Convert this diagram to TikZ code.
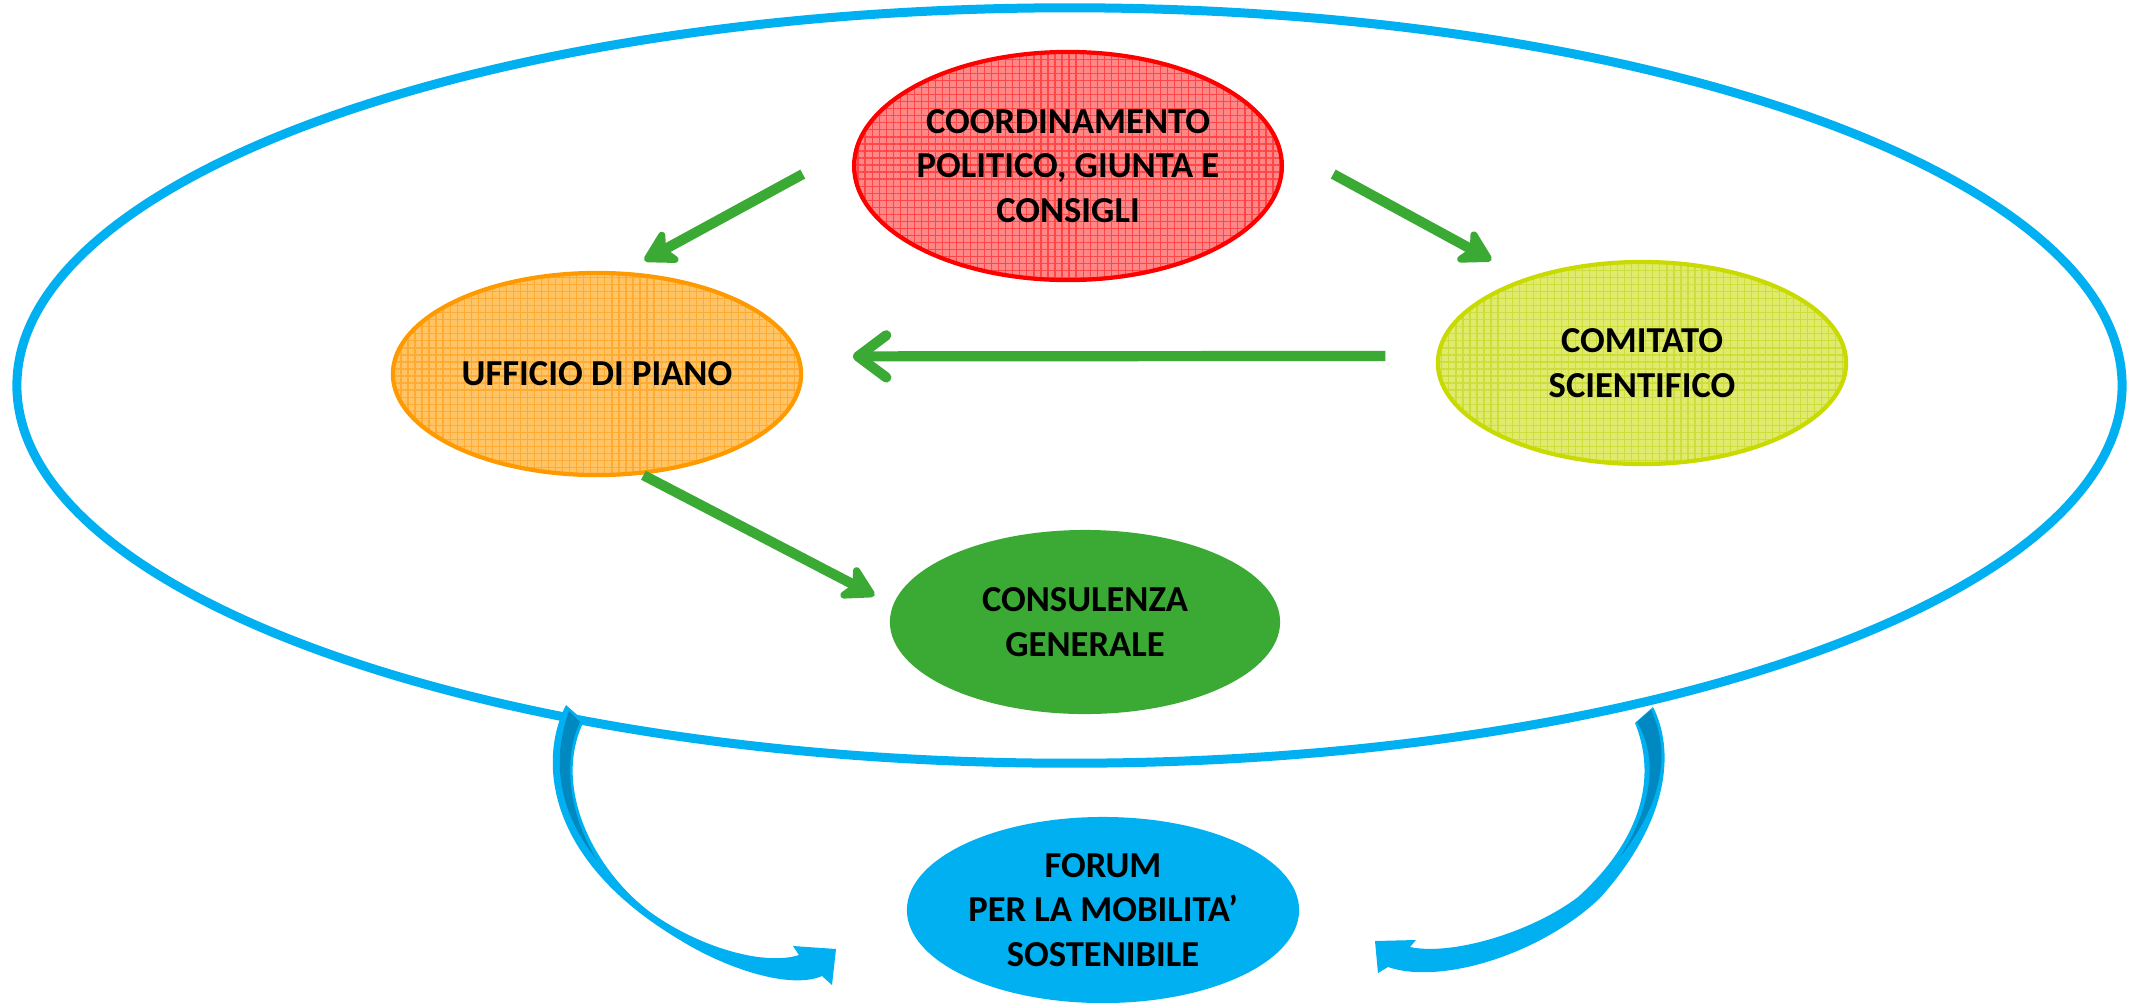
\documentclass[tikz,border=0pt]{standalone}
\usepackage{fontspec}
\setmainfont{Carlito}[BoldFont={Carlito Bold}]
\usepackage{tikz}
\usetikzlibrary{arrows.meta, patterns.meta, shapes.geometric}
\usepackage{xcolor}
\definecolor{SkyBlue}{RGB}{0, 176, 240}
\definecolor{DeepBlue}{RGB}{0, 137, 192}
\definecolor{LeafGreen}{RGB}{58, 170, 53}
\definecolor{Red}{RGB}{255, 0, 0}
\definecolor{LiteRed}{RGB}{255, 135, 135}
\definecolor{GridRed}{RGB}{255, 70, 70}
\definecolor{Orange}{RGB}{255, 153, 0}
\definecolor{LiteOrange}{RGB}{255, 196, 102}
\definecolor{GridOrange}{RGB}{255, 170, 50}
\definecolor{Lime}{RGB}{200, 218, 0}
\definecolor{LiteLime}{RGB}{224, 235, 110}
\definecolor{GridLime}{RGB}{205, 222, 60}
\tikzset{%
  bubble/.style={%
    ellipse,%
    inner sep=0pt,%
    outer sep=0pt,%
    align=center,%
    font={\bfseries\fontsize{10.4}{12.7}\selectfont},%
  },
  gridded/.style={%
    preaction={fill=#1},%
    pattern={Hatch[angle=0, distance=2pt, line width=0.35pt]},%
  },
  frame_path/.style={%
    draw=SkyBlue,%
    line width=0.09cm,%
  },
  green_path/.style={%
    color=LeafGreen,%
    line width=2.9pt,%
  },
  arrow/.style={-{Stealth[length=11pt, width=12.5pt, inset=3pt, round]}},
  barb/.style={-{Straight Barb[length=8pt, width=12pt, round]}},
  curl/.style={%
    fill=SkyBlue,%
  },
  curl_back/.style={%
    fill=DeepBlue,%
  },
}

\begin{document}
\begin{tikzpicture}[x=0.01cm, y=-0.01cm]
  \useasboundingbox (0,0) rectangle (2141,1002);

  \node [bubble, frame_path, minimum width=21.04cm, minimum height=7.55cm]
    (Ambito) at (1069.5,385.5) {};

  \node [bubble, gridded=LiteRed, pattern color=GridRed, draw=Red,
    line width=1.2pt, minimum width=4.24cm, minimum height=2.28cm]
    (Coordinamento) at (1068,166) {%
      COORDINAMENTO\\POLITICO, GIUNTA E\\CONSIGLI%
    };
  \node [bubble, gridded=LiteOrange, pattern color=GridOrange, draw=Orange,
    line width=1.2pt, minimum width=4.08cm, minimum height=2.02cm]
    (Ufficio) at (597,374) {%
      UFFICIO DI PIANO%
    };
  \node [bubble, gridded=LiteLime, pattern color=GridLime, draw=Lime,
    line width=1.2pt, minimum width=4.08cm, minimum height=2.02cm]
    (Comitato) at (1642,363) {%
      COMITATO\\SCIENTIFICO%
    };
  \node [bubble, fill=LeafGreen, minimum width=3.9cm, minimum height=1.84cm]
    (Consulenza) at (1085,622) {%
      CONSULENZA\\GENERALE%
    };
  \node [bubble, fill=SkyBlue, minimum width=3.92cm, minimum height=1.86cm]
    (Forum) at (1103,910) {%
      FORUM\\PER LA MOBILITA'\\SOSTENIBILE%
    };

  \draw [arrow, green_path, shorten <=0.63cm, shorten >=0.275cm]
    (Coordinamento.174) -- (Ufficio.77);
  \draw [arrow, green_path, shorten <=0.63cm, shorten >=0.405cm]
    (Coordinamento.6) -- (Comitato.144);
  \draw [barb, green_path, shorten <=0.53cm, shorten >=0.55cm]
    (Comitato.178) -- (Ufficio.5);
  \draw [arrow, green_path, shorten <=0.05cm, shorten >=0.21cm]
    (Ufficio.-67) -- (Consulenza.175);

  % curved arrows towards the forum
  \path [curl]
    (566,705)
    .. controls (538,760) and (545,860) .. (680,940)
    .. controls (725,968) and (790,990) .. (822,976)
    -- (832,985) -- (836,949) -- (793,946) -- (799,955)
    .. controls (765,966) and (700,948) .. (650,912)
    .. controls (592,868) and (552,785) .. (584,721)
    -- cycle;
  \path [curl_back]
    (569,711) -- (580,722)
    .. controls (564,755) and (566,810) .. (597,860)
    .. controls (565,820) and (548,770) .. (569,711)
    -- cycle;
  \path [curl]
    (1653,707)
    .. controls (1675,750) and (1670,820) .. (1600,898)
    .. controls (1540,955) and (1440,985) .. (1388,967)
    -- (1378,973) -- (1375,941) -- (1416,940) -- (1410,947)
    .. controls (1452,956) and (1532,932) .. (1578,897)
    .. controls (1628,852) and (1662,790) .. (1635,723)
    -- cycle;
  \path [curl_back]
    (1637,722) -- (1651,710)
    .. controls (1670,750) and (1665,800) .. (1620,857)
    .. controls (1650,810) and (1660,760) .. (1637,722)
    -- cycle;
\end{tikzpicture}
\end{document}
